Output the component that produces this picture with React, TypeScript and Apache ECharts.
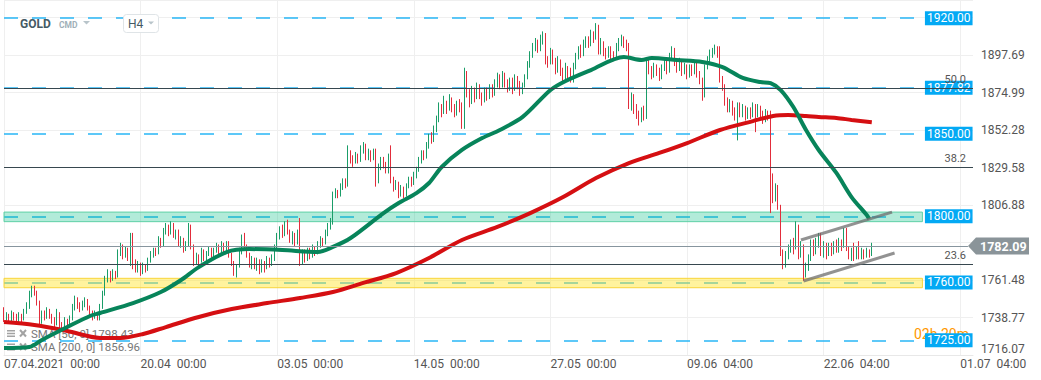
import React, { useEffect, useRef } from 'react';
import * as echarts from 'echarts';

// ---------- axis scaffolding ----------
const barCount = 384;
const xTickEvery = 54;
const xTickLabels = ['07.04.2021  00:00', '20.04  00:00', '03.05  00:00', '14.05  00:00', '27.05  00:00', '09.06  04:00', '22.06  04:00', '01.07  04:00'];
const yMin = 1716.072;
const yMax = 1931.0;
const yInterval = 22.702;
const yTickLabels = ['1716.07', '1738.77', '1761.48', '', '1806.88', '1829.58', '1852.28', '1874.99', '1897.69'];

// ---------- H4 candles: [open, close, low, high] ----------
const candles: number[][] = [
  [1744,1738,1736,1745],[1738,1740,1737,1742],[1740,1737,1735,1741],[1737,1741,1736,1743],[1741,1739,1737,1742],
  [1739,1737,1735,1741],[1737,1740,1736,1742],[1740,1738,1736,1741],[1738,1742,1737,1744],[1742,1746,1741,1748],
  [1746,1753,1744,1755],[1753,1756,1751,1758],[1756,1754,1752,1758],[1754,1748,1746,1755],[1748,1736,1733,1749],
  [1736,1741,1735,1743],[1741,1739,1737,1743],[1739,1743,1738,1745],[1743,1740,1738,1744],[1740,1737,1735,1741],
  [1737,1735,1733,1739],[1735,1741,1734,1744],[1741,1734,1731,1742],[1734,1733,1730,1736],[1733,1737,1732,1739],
  [1737,1734,1732,1738],[1734,1738,1733,1740],[1738,1745,1737,1747],[1745,1750,1743,1752],[1750,1746,1744,1751],
  [1746,1744,1742,1748],[1744,1747,1743,1749],[1747,1749,1745,1751],[1749,1745,1743,1750],[1745,1742,1740,1746],
  [1742,1739,1737,1743],[1739,1741,1738,1743],[1741,1738,1737,1742],[1738,1745,1737,1747],[1745,1753,1744,1755],
  [1753,1762,1752,1764],[1762,1766,1760,1768],[1766,1762,1760,1767],[1762,1766,1761,1768],[1766,1764,1762,1767],
  [1764,1778,1763,1780],[1778,1782,1776,1784],[1782,1776,1774,1783],[1776,1780,1775,1782],[1780,1775,1773,1781],
  [1775,1788,1770,1790],[1788,1772,1768,1790],[1772,1768,1766,1774],[1768,1771,1766,1773],[1771,1766,1764,1772],
  [1766,1770,1765,1772],[1770,1768,1766,1771],[1768,1773,1767,1775],[1773,1777,1772,1779],[1777,1779,1775,1781],
  [1779,1778,1776,1781],[1778,1786,1777,1788],[1786,1783,1781,1787],[1783,1791,1782,1793],[1791,1794,1789,1796],
  [1794,1790,1788,1795],[1790,1795,1789,1797],[1795,1789,1787,1796],[1789,1791,1786,1792],[1791,1784,1782,1792],
  [1784,1786,1781,1788],[1786,1780,1778,1787],[1780,1783,1779,1785],[1783,1794,1782,1796],[1794,1782,1780,1795],
  [1782,1772,1770,1783],[1772,1776,1771,1778],[1776,1773,1770,1777],[1773,1779,1772,1781],[1779,1775,1773,1780],
  [1775,1777,1773,1779],[1777,1780,1776,1782],[1780,1776,1775,1781],[1776,1779,1775,1781],[1779,1782,1778,1784],
  [1782,1779,1777,1783],[1779,1783,1778,1785],[1783,1780,1778,1784],[1780,1784,1779,1785],[1784,1777,1775,1785],
  [1777,1772,1770,1778],[1772,1766,1764,1773],[1766,1770,1763,1771],[1770,1779,1769,1781],[1779,1786,1777,1789],
  [1786,1782,1780,1790],[1782,1777,1775,1783],[1777,1771,1769,1778],[1771,1774,1768,1776],[1774,1770,1768,1775],
  [1770,1773,1767,1775],[1773,1768,1765,1774],[1768,1772,1766,1774],[1772,1769,1766,1773],[1769,1774,1768,1776],
  [1774,1771,1769,1775],[1771,1775,1770,1777],[1775,1781,1773,1783],[1781,1788,1779,1790],[1788,1792,1786,1794],
  [1792,1789,1787,1795],[1789,1795,1788,1797],[1795,1791,1789,1798],[1791,1786,1784,1792],[1786,1789,1783,1791],
  [1789,1784,1782,1790],[1784,1790,1783,1792],[1790,1773,1770,1799],[1773,1778,1771,1780],[1778,1775,1772,1780],
  [1775,1779,1773,1781],[1779,1776,1774,1781],[1776,1781,1775,1783],[1781,1778,1776,1782],[1778,1783,1777,1785],
  [1783,1786,1781,1788],[1786,1784,1782,1787],[1784,1790,1783,1792],[1790,1794,1788,1796],[1794,1797,1792,1799],
  [1797,1813,1795,1815],[1813,1815,1811,1817],[1815,1813,1811,1816],[1813,1818,1812,1820],[1818,1821,1816,1823],
  [1821,1819,1817,1823],[1819,1838,1818,1843],[1838,1835,1832,1840],[1835,1833,1830,1837],[1833,1837,1832,1839],
  [1837,1834,1832,1838],[1834,1840,1833,1843],[1840,1843,1838,1845],[1843,1836,1834,1844],[1836,1839,1834,1841],
  [1839,1835,1833,1840],[1835,1840,1834,1841],[1840,1821,1818,1841],[1821,1830,1820,1832],[1830,1834,1828,1836],
  [1834,1831,1829,1836],[1831,1827,1826,1833],[1827,1836,1826,1838],[1836,1822,1820,1843],[1822,1818,1815,1824],
  [1818,1820,1816,1822],[1820,1814,1811,1821],[1814,1817,1812,1819],[1817,1813,1811,1818],[1813,1818,1812,1820],
  [1818,1822,1817,1824],[1822,1820,1818,1824],[1820,1825,1819,1827],[1825,1828,1823,1830],[1828,1834,1827,1836],
  [1834,1838,1832,1840],[1838,1836,1834,1840],[1836,1843,1835,1845],[1843,1848,1841,1850],[1848,1846,1844,1851],
  [1846,1852,1845,1855],[1852,1858,1851,1861],[1858,1866,1857,1869],[1866,1863,1860,1868],[1863,1868,1862,1873],
  [1868,1865,1862,1870],[1865,1870,1864,1874],[1870,1866,1863,1872],[1866,1862,1860,1868],[1862,1868,1861,1870],
  [1868,1866,1863,1871],[1866,1856,1853,1869],[1856,1886,1853,1890],[1886,1875,1872,1888],[1875,1870,1866,1877],
  [1870,1876,1868,1879],[1876,1872,1869,1878],[1872,1878,1871,1881],[1878,1874,1871,1880],[1874,1870,1867,1875],
  [1870,1876,1869,1878],[1876,1872,1870,1878],[1872,1878,1871,1880],[1878,1874,1872,1880],[1874,1880,1873,1883],
  [1880,1884,1878,1887],[1884,1879,1877,1886],[1879,1885,1878,1888],[1885,1881,1878,1887],[1881,1878,1875,1883],
  [1878,1882,1876,1884],[1882,1877,1874,1884],[1877,1884,1876,1886],[1884,1880,1877,1885],[1880,1876,1873,1882],
  [1876,1879,1874,1881],[1879,1884,1878,1886],[1884,1892,1883,1894],[1892,1898,1890,1900],[1898,1903,1896,1905],
  [1903,1906,1900,1908],[1906,1901,1899,1907],[1901,1907,1900,1910],[1907,1910,1904,1912],[1910,1895,1892,1911],
  [1895,1893,1890,1897],[1893,1899,1892,1902],[1899,1895,1892,1901],[1895,1889,1886,1896],[1889,1894,1887,1897],
  [1894,1888,1885,1895],[1888,1884,1882,1890],[1884,1890,1883,1893],[1890,1886,1883,1891],[1886,1882,1881,1890],
  [1882,1890,1881,1893],[1890,1897,1889,1899],[1897,1901,1895,1903],[1901,1898,1896,1904],[1898,1904,1897,1907],
  [1904,1907,1902,1909],[1907,1904,1902,1909],[1904,1910,1903,1913],[1910,1908,1905,1912],[1908,1914,1907,1917],
  [1914,1900,1898,1916],[1900,1905,1898,1908],[1905,1900,1897,1906],[1900,1897,1895,1902],[1897,1901,1896,1903],
  [1901,1898,1895,1903],[1898,1897,1894,1900],[1897,1902,1896,1905],[1902,1905,1900,1908],[1905,1908,1903,1910],
  [1908,1904,1902,1909],[1904,1903,1900,1907],[1903,1868,1865,1905],[1868,1872,1864,1875],[1872,1866,1862,1874],
  [1866,1862,1859,1868],[1862,1858,1855,1864],[1858,1864,1857,1866],[1864,1860,1858,1867],[1860,1893,1859,1895],
  [1893,1889,1886,1895],[1889,1885,1883,1891],[1885,1891,1884,1893],[1891,1888,1885,1892],[1888,1884,1882,1890],
  [1884,1890,1883,1892],[1890,1894,1888,1896],[1894,1888,1886,1895],[1888,1897,1887,1899],[1897,1900,1895,1903],
  [1900,1893,1891,1902],[1893,1889,1887,1895],[1889,1893,1888,1896],[1893,1887,1885,1894],[1887,1891,1886,1893],
  [1891,1885,1883,1892],[1885,1890,1884,1892],[1890,1887,1885,1892],[1887,1892,1886,1894],[1892,1886,1884,1893],
  [1886,1882,1880,1888],[1882,1876,1870,1884],[1876,1890,1872,1892],[1890,1895,1889,1897],[1895,1898,1893,1901],
  [1898,1900,1896,1902],[1900,1902,1898,1904],[1902,1898,1896,1903],[1898,1883,1881,1903],[1883,1878,1876,1885],
  [1878,1870,1867,1880],[1870,1865,1863,1872],[1865,1869,1863,1871],[1869,1864,1861,1870],[1864,1861,1858,1866],
  [1861,1867,1846,1869],[1867,1862,1860,1869],[1862,1866,1860,1868],[1866,1860,1858,1867],[1860,1864,1859,1866],
  [1864,1861,1859,1866],[1861,1867,1860,1869],[1867,1862,1851,1868],[1862,1866,1860,1868],[1866,1862,1860,1867],
  [1862,1859,1856,1864],[1859,1863,1857,1865],[1863,1860,1858,1864],[1860,1803,1802,1864],[1824,1811,1808,1826],
  [1811,1818,1809,1820],[1818,1806,1804,1819],[1806,1778,1776,1807],[1778,1772,1768,1780],[1772,1776,1769,1779],
  [1776,1780,1774,1783],[1780,1784,1778,1786],[1784,1781,1777,1787],[1781,1794,1780,1797],[1794,1777,1774,1795],
  [1777,1782,1775,1785],[1782,1764,1761,1783],[1764,1770,1763,1772],[1770,1775,1767,1777],[1775,1783,1773,1786],
  [1783,1779,1776,1786],[1779,1784,1777,1787],[1784,1788,1781,1790],[1788,1778,1776,1790],[1778,1782,1775,1785],
  [1782,1777,1774,1784],[1777,1781,1776,1784],[1781,1779,1776,1784],[1779,1783,1777,1785],[1783,1780,1778,1786],
  [1780,1784,1778,1787],[1784,1782,1779,1786],[1782,1791,1781,1793],[1791,1780,1779,1793],[1780,1776,1774,1782],
  [1776,1779,1773,1781],[1779,1775,1773,1784],[1775,1778,1774,1782],[1778,1776,1774,1785],[1776,1779,1774,1781],
  [1779,1776,1774,1780],[1776,1779,1775,1781],[1779,1777,1775,1780],[1777,1782,1776,1784],
];

// ---------- moving averages: [bar index, value] ----------
const sma50: number[][] = [
  [0,1720.3],[10,1720.9],[15,1725.2],[25,1733.0],[34,1739.7],[38,1741.5],[51,1747.5],[62,1754.2],[70,1761.5],
  [77,1769.3],[88,1778.4],[97,1780.2],[110,1779.6],[124,1778.4],[130,1781.5],[137,1786.9],[150,1802.0],[156,1808.1],
  [163,1814.1],[168,1820.2],[173,1829.9],[181,1840.2],[189,1847.4],[196,1852.3],[205,1860.2],[216,1876.5],[222,1882.0],
  [232,1888.6],[245,1896.5],[252,1894.7],[256,1895.9],[266,1894.7],[276,1893.5],[284,1890.4],[292,1883.8],[299,1881.3],
  [303,1880.7],[307,1876.5],[312,1866.2],[317,1852.3],[322,1840.2],[329,1826.3],[335,1811.7],[341,1800.8],[342,1798.4],
];
const sma200: number[][] = [
  [0,1736.0],[12,1734.2],[25,1730.6],[38,1726.4],[46,1726.4],[55,1728.8],[64,1733.0],[77,1739.1],[90,1743.9],
  [104,1747.5],[117,1750.6],[130,1754.2],[142,1759.7],[155,1765.7],[168,1774.8],[181,1785.7],[195,1793.6],[208,1802.0],
  [221,1811.7],[234,1823.2],[247,1832.3],[259,1838.4],[270,1844.4],[283,1852.3],[296,1857.7],[304,1860.8],[310,1861.4],
  [317,1860.8],[322,1860.2],[329,1859.6],[335,1858.4],[343,1857.0],
];
const sma50Last = '1798.43';
const sma200Last = '1856.96';

// ---------- annotations ----------
const priceLevels = [1920.0, 1877.82, 1850.0, 1800.0, 1760.0, 1725.0];
const zones = [
  { lo: 1796.8, hi: 1802.6, fill: 'rgba(0,190,130,0.30)', border: '#5fd0a6' },
  { lo: 1756.8, hi: 1762.5, fill: 'rgba(255,228,40,0.45)', border: '#f9d43a' },
];
const fibLevels = [
  { label: '50.0', value: 1877.5 },
  { label: '38.2', value: 1829.6 },
  { label: '23.6', value: 1771.2 },
];
const currentPrice = 1782.09;
const channelUpper = [[315, 1785.7], [351, 1802.6]];
const channelLower = [[316, 1760.9], [352, 1777.8]];
const countdown = '02h 20m';

const levelEnd = 364;
const zoneEnd = 363;
const priceEnd = 381;
const fibEnd = 383;

const GREEN = '#1a9d68';
const RED = '#e22d3b';
const FONT = 'Roboto';

export default function App() {
  const ref = useRef<HTMLDivElement>(null);
  useEffect(() => {
    if (!ref.current) return;
    const chart = echarts.init(ref.current, undefined, { renderer: 'svg' });
    const xCats = Array.from({ length: barCount }, (_, i) => String(i));
    const isTick = (i: number) => i % xTickEvery === 0;

    chart.setOption({
      animation: false,
      textStyle: { fontFamily: FONT },
      grid: { left: 4, right: 68, top: 0, bottom: 25 },
      xAxis: {
        type: 'category',
        data: xCats,
        boundaryGap: false,
        axisLine: { show: true, lineStyle: { color: '#e8e8e8' } },
        axisTick: { show: false },
        axisLabel: {
          interval: (i: number) => isTick(i),
          formatter: (_v: string, i: number) => xTickLabels[i / xTickEvery] ?? '',
          align: 'left',
          color: '#555',
          fontSize: 12,
          margin: 3,
          fontFamily: FONT,
        },
        splitLine: { show: true, interval: (i: number) => isTick(i), lineStyle: { color: '#efefef' } },
      },
      yAxis: {
        type: 'value',
        position: 'right',
        min: yMin,
        max: yMax,
        interval: yInterval,
        axisLine: { show: false },
        axisTick: { show: false },
        splitLine: { show: true, lineStyle: { color: '#efefef' } },
        axisLabel: {
          margin: 8,
          color: '#555',
          fontSize: 12,
          fontFamily: FONT,
          formatter: (_v: number, i: number) => {
            const t = yTickLabels[i] ?? '';
            if (!t) return '';
            return i === 0 ? `{low|${t}}` : t;
          },
          rich: { low: { padding: [0, 0, 12, 0], fontSize: 12, color: '#555', fontFamily: FONT } },
        },
      },
      series: [
        {
          name: 'levels',
          type: 'line',
          data: [],
          markLine: {
            z: 1,
            silent: true,
            symbol: ['none', 'none'],
            lineStyle: { color: '#29b6f6', width: 1.5, type: [14, 14] },
            label: {
              show: true,
              position: 'end',
              distance: 0,
              formatter: '{b}',
              color: '#fff',
              backgroundColor: '#03a9f4',
              padding: [1, 2],
              fontSize: 12,
              lineHeight: 12,
              fontFamily: FONT,
            },
            emphasis: { disabled: true },
            data: priceLevels.map((v) => [
              { name: v.toFixed(2), xAxis: 0, yAxis: v },
              { xAxis: levelEnd, yAxis: v },
            ]),
          },
        },
        {
          name: 'zones',
          type: 'line',
          data: [],
          markArea: {
            z: 1.5,
            silent: true,
            data: zones.map((zn) => [
              { xAxis: 0, yAxis: zn.lo, itemStyle: { color: zn.fill, borderColor: zn.border, borderWidth: 1 } },
              { xAxis: zoneEnd, yAxis: zn.hi },
            ]),
          },
        },
        {
          name: 'GOLD',
          type: 'candlestick',
          data: candles,
          barWidth: 1.3,
          z: 2,
          itemStyle: { color: GREEN, color0: RED, borderColor: GREEN, borderColor0: RED, borderWidth: 1 },
        },
        {
          name: 'SMA 200',
          type: 'line',
          data: sma200,
          showSymbol: false,
          symbol: 'none',
          smooth: 0.3,
          z: 3,
          lineStyle: { color: '#d50f12', width: 4 },
        },
        {
          name: 'SMA 50',
          type: 'line',
          data: sma50,
          showSymbol: false,
          symbol: 'none',
          smooth: 0.3,
          z: 3,
          lineStyle: { color: '#07845a', width: 4 },
        },
        {
          name: 'fib',
          type: 'line',
          data: [],
          markLine: {
            z: 4,
            silent: true,
            symbol: ['none', 'none'],
            lineStyle: { color: '#37474f', width: 1, type: 'solid' },
            label: {
              show: true,
              position: 'insideEndTop',
              distance: [7, 3],
              formatter: '{b}',
              color: '#555',
              fontSize: 11,
              lineHeight: 11,
              fontFamily: FONT,
            },
            emphasis: { disabled: true },
            data: fibLevels.map((f) => [
              { name: f.label, xAxis: 0, yAxis: f.value },
              { xAxis: fibEnd, yAxis: f.value },
            ]),
          },
        },
        {
          name: 'price',
          type: 'line',
          data: [],
          markLine: {
            z: 4,
            silent: true,
            symbol: ['none', 'none'],
            lineStyle: { color: '#87959e', width: 1, type: 'solid' },
            label: { show: false },
            emphasis: { disabled: true },
            data: [[{ xAxis: 0, yAxis: currentPrice }, { xAxis: priceEnd, yAxis: currentPrice }]],
          },
        },
        {
          name: 'channel',
          type: 'line',
          data: [],
          markLine: {
            z: 5,
            silent: true,
            symbol: ['none', 'none'],
            lineStyle: { color: 'rgba(110,110,110,0.75)', width: 3, type: 'solid' },
            label: { show: false },
            emphasis: { disabled: true },
            data: [
              [{ coord: channelUpper[0] }, { coord: channelUpper[1] }],
              [{ coord: channelLower[0] }, { coord: channelLower[1] }],
            ],
          },
        },
      ],
    });

    const py = chart.convertToPixel({ yAxisIndex: 0 }, currentPrice) as number;
    const iconColor = '#a3a3a3';
    const legendIcon = (cy: number) => [
      { type: 'rect', z: 1, shape: { x: 7, y: cy - 3.5, width: 8, height: 1.5 }, style: { fill: iconColor } },
      { type: 'rect', z: 1, shape: { x: 7, y: cy - 0.75, width: 8, height: 1.5 }, style: { fill: iconColor } },
      { type: 'rect', z: 1, shape: { x: 7, y: cy + 2, width: 8, height: 1.5 }, style: { fill: iconColor } },
      { type: 'line', z: 1, shape: { x1: 20, y1: cy - 3.5, x2: 26, y2: cy + 3 }, style: { stroke: iconColor, lineWidth: 2 } },
      { type: 'line', z: 1, shape: { x1: 26, y1: cy - 3.5, x2: 20, y2: cy + 3 }, style: { stroke: iconColor, lineWidth: 2 } },
    ];

    chart.setOption({
      graphic: [
        // header
        { type: 'text', z: 1, x: 20, y: 23.5, style: { text: 'GOLD', fontSize: 12, fontWeight: 'bold', fontFamily: FONT, fill: '#455a64', verticalAlign: 'middle' } },
        { type: 'text', z: 1, x: 59, y: 24.5, style: { text: 'CMD', fontSize: 8.5, fontWeight: 'bold', fontFamily: FONT, fill: '#9fb0b8', verticalAlign: 'middle' } },
        { type: 'polygon', z: 1, shape: { points: [[83, 21], [90, 21], [86.5, 24.5]] }, style: { fill: '#b8c4ca' } },
        { type: 'rect', z: 1, shape: { x: 123.5, y: 14.5, width: 35, height: 18, r: 3 }, style: { fill: '#fff', stroke: '#dfe4e7', lineWidth: 1 } },
        { type: 'text', z: 1, x: 128, y: 23.5, style: { text: 'H4', fontSize: 12, fontFamily: FONT, fill: '#455a64', verticalAlign: 'middle' } },
        { type: 'polygon', z: 1, shape: { points: [[148, 21.5], [154, 21.5], [151, 24.5]] }, style: { fill: '#b8c4ca' } },
        // indicator legend
        ...legendIcon(333.5),
        { type: 'text', z: 1, x: 31, y: 333.5, style: { text: `SMA [50, 0] ${sma50Last}`, fontSize: 11.5, fontFamily: FONT, fill: '#777', verticalAlign: 'middle' } },
        ...legendIcon(347),
        { type: 'text', z: 1, x: 31, y: 347, style: { text: `SMA [200, 0] ${sma200Last}`, fontSize: 11.5, fontFamily: FONT, fill: '#777', verticalAlign: 'middle' } },
        // countdown (partly behind the 1725.00 tag, as in the reference)
        { type: 'text', z: 0, x: 914, y: 334, style: { text: countdown, fontSize: 14, fontFamily: FONT, fill: '#ff9800', verticalAlign: 'middle' } },
        // current price badge
        { type: 'polygon', z: 10, shape: { points: [[968, py], [976, py - 8.5], [1029, py - 8.5], [1029, py + 8.5], [976, py + 8.5]] }, style: { fill: '#8a9499' } },
        { type: 'text', z: 11, x: 980, y: py + 0.5, style: { text: currentPrice.toFixed(2), fontSize: 12.5, fontWeight: 'bold', fontFamily: FONT, fill: '#fff', verticalAlign: 'middle' } },
      ],
    });

    return () => chart.dispose();
  }, []);

  return (
    <div
      ref={ref}
      style={{ position: 'absolute', left: 0, top: 0, width: 1041, height: 380, background: '#fff' }}
    />
  );
}
